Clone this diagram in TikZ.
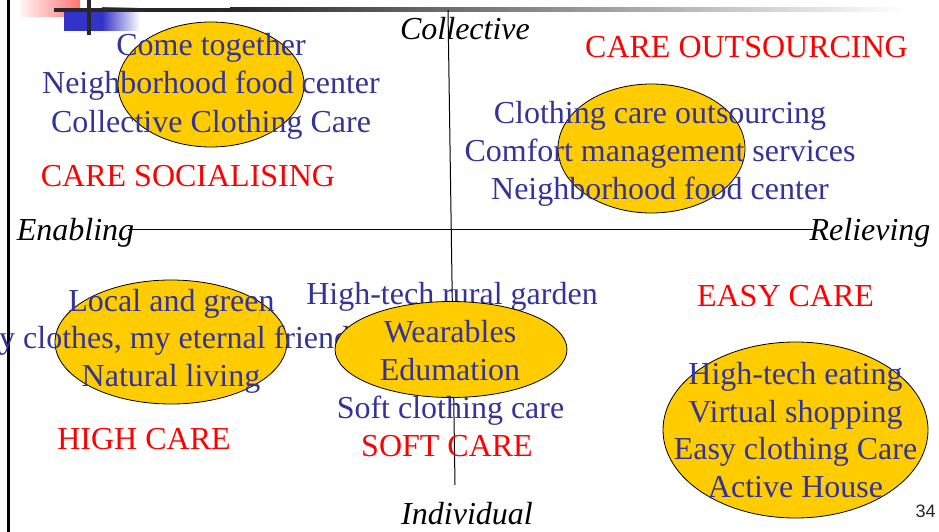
\documentclass[tikz,border=0pt]{standalone}
\usepackage{fontspec}
\setmainfont{Liberation Serif}
\newfontfamily\numfont{Liberation Sans}
\usetikzlibrary{shapes.geometric}
\definecolor{txtblue}{RGB}{51,51,153}
\definecolor{gold}{RGB}{255,204,0}
\definecolor{barblue}{RGB}{51,51,204}
\definecolor{bardark}{RGB}{40,40,40}
\begin{document}
\begin{tikzpicture}[x=1pt,y=-1pt,
  blob/.style={ellipse,draw=black,line width=0.8pt,fill=gold,inner sep=0pt},
  item/.style={font=\fontsize{32}{38}\selectfont,text=txtblue,anchor=base,inner sep=0pt},
  quad/.style={font=\fontsize{32}{38}\selectfont,text=red,anchor=base,inner sep=0pt},
  axislabel/.style={font=\fontsize{32}{38}\selectfont\itshape,text=black,anchor=base,inner sep=0pt},
  axisline/.style={draw=black,line width=1pt}]
\useasboundingbox (0,0) rectangle (939,532);
\clip (0,0) rectangle (939,532);

% title-bar ornament
\shade[left color=red!4,right color=red!55] (20,0) rectangle (80,17);
\fill[barblue] (64,8) rectangle (102,31);
\shade[left color=barblue,right color=white] (102,8) rectangle (140,31);
\fill[bardark] (54,8) rectangle (230,12);
\shade[left color=bardark,right color=white] (230,8) rectangle (905,12);
\fill[bardark] (87,0) rectangle (91,35);
\fill[black] (7,0) rectangle (10,532);

% axes
\coordinate (top) at (448,10);
\coordinate (bottom) at (455,485);
\coordinate (left) at (128,229);
\coordinate (right) at (813,229);
\draw[axisline] (top) -- (bottom);
\draw[axisline] (left) -- (right);

\node[axislabel] (collective) at (465,39.5) {Collective};
\node[axislabel] (individual) at (467,524.5) {Individual};
\node[axislabel] (enabling) at (75.5,240) {Enabling};
\node[axislabel] (relieving) at (870,240) {Relieving};

% care socialising
\node[blob,minimum width=186pt,minimum height=125pt] (e1) at (211,84.5) {};
\node[item] (t11) at (211,56) {Come together};
\node[item] (t12) at (211,94) {Neighborhood food center};
\node[item] (t13) at (211,132) {Collective Clothing Care};
\node[quad] (q1) at (188,186) {CARE SOCIALISING};

% care outsourcing
\node[quad] (q2) at (746.5,58) {CARE OUTSOURCING};
\node[blob,minimum width=187pt,minimum height=129pt] (e2) at (651.5,148.5) {};
\node[item] (t21) at (660,123.5) {Clothing care outsourcing};
\node[item] (t22) at (660,161.5) {Comfort management services};
\node[item] (t23) at (660,199.5) {Neighborhood food center};

% high care
\node[blob,minimum width=232pt,minimum height=124pt] (e3) at (171,342) {};
\node[item] (t31) at (171.5,311) {Local and green};
\node[item,anchor=base west] (t32) at (-29.5,348.5) {My clothes, my eternal friend};
\node[item] (t33) at (171,386) {Natural living};
\node[quad] (q3) at (144,449) {HIGH CARE};

% soft care
\node[item] (t40) at (452,304) {High-tech rural garden};
\node[blob,minimum width=232pt,minimum height=96pt] (e4) at (451,349.5) {};
\node[item] (t41) at (450,342.5) {Wearables};
\node[item] (t42) at (450,380) {Edumation};
\node[item] (t43) at (450.5,418) {Soft clothing care};
\node[quad] (q4) at (447,456) {SOFT CARE};

% easy care
\node[quad] (q5) at (785.5,306) {EASY CARE};
\node[blob,minimum width=265pt,minimum height=176pt] (e5) at (795.5,430) {};
\node[item] (t51) at (795.5,384.5) {High-tech eating};
\node[item] (t52) at (795.5,422) {Virtual shopping};
\node[item] (t53) at (795.5,459.5) {Easy clothing Care};
\node[item] (t54) at (795.5,497.5) {Active House};

\node[font=\fontsize{18}{20}\numfont,text=black!85,anchor=base,inner sep=0pt] (page) at (925.5,517) {34};
\end{tikzpicture}
\end{document}
